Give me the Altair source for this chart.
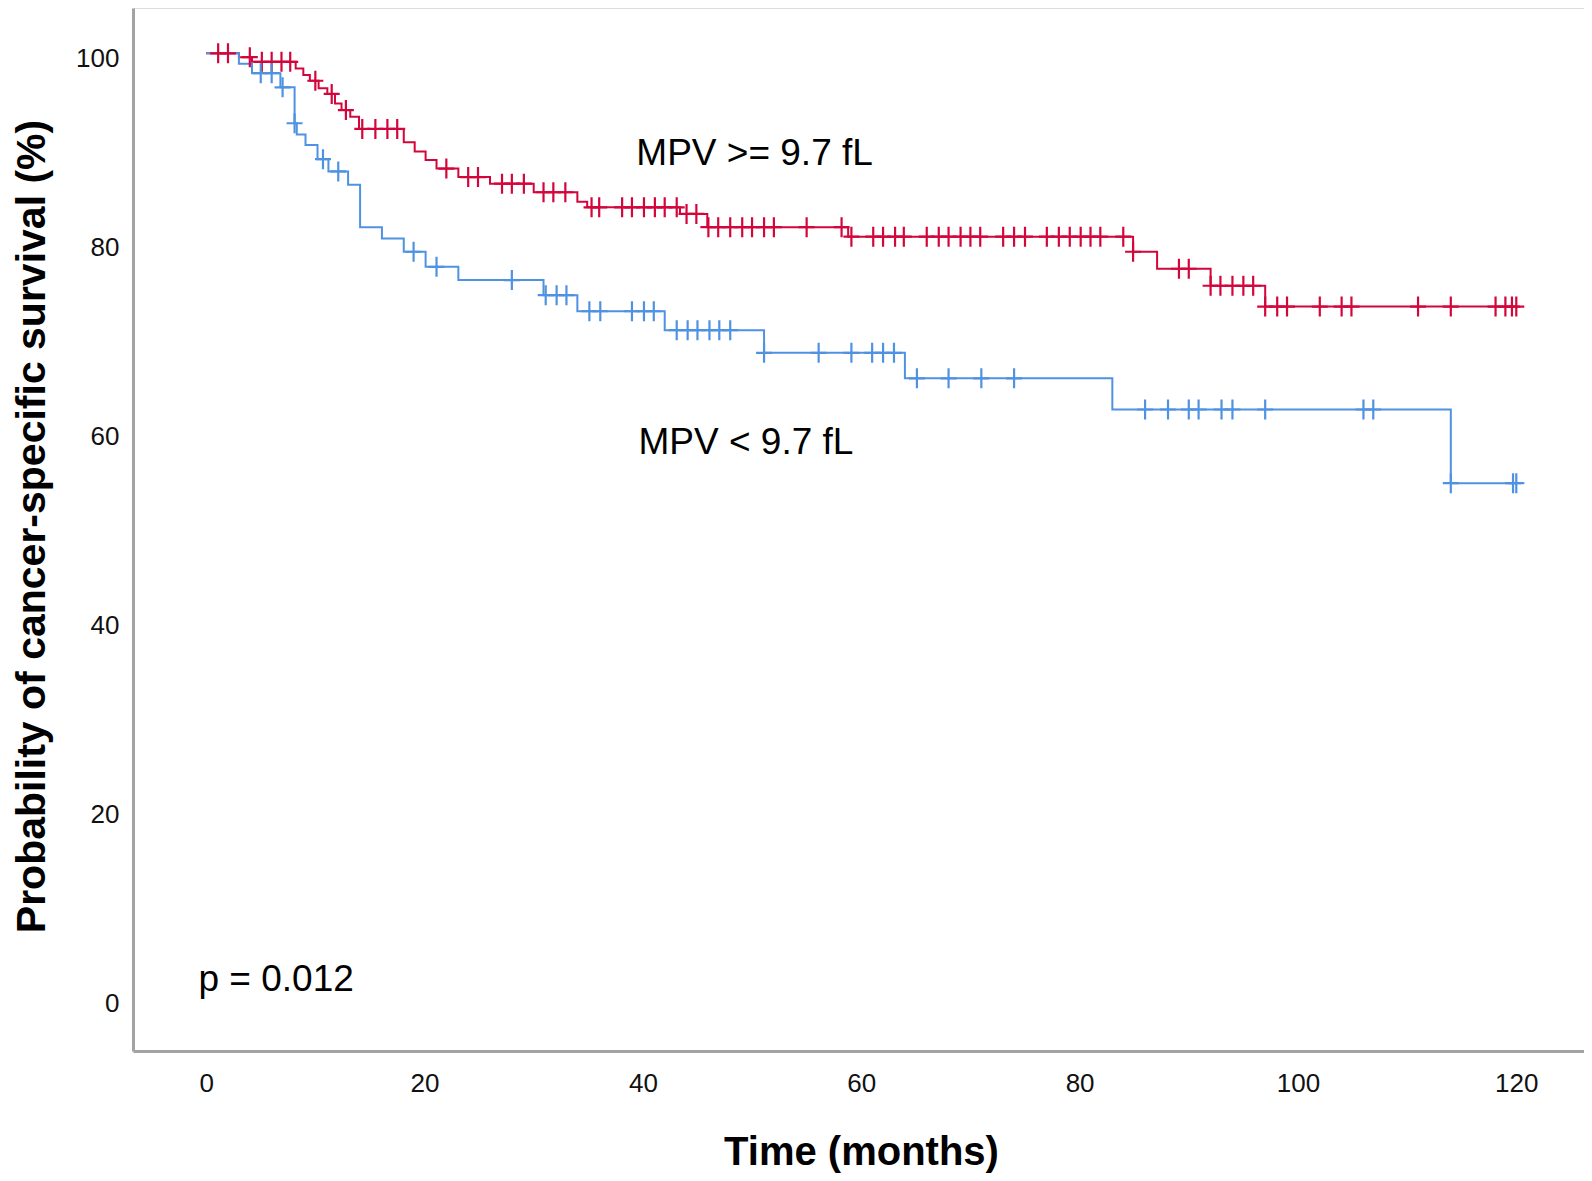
import altair as alt
import pandas as pd
import numpy as np

# ---------------- data ----------------
group_names = ["MPV >= 9.7 fL", "MPV < 9.7 fL"]
group_colors = ["#d3063c", "#4f92e2"]

# MPV >= 9.7 fL (red): event times (months) and survival (%) after each step
high_event_times = [3.0, 4.2, 8.2, 8.9, 9.5, 10.3, 11.1, 11.8, 12.4, 13.2, 14.0,
                    18.1, 19.1, 20.1, 21.1, 23.1, 26.0, 30.0, 34.0, 34.9,
                    43.4, 45.9, 58.8, 84.9, 87.1, 92.0, 97.0]
high_event_surv = [99.6, 99.1, 98.4, 97.7, 97.1, 96.3, 95.7, 94.7, 94.0, 93.3, 92.0,
                   90.6, 89.6, 88.7, 87.8, 86.9, 86.2, 85.3, 84.3, 83.7,
                   83.0, 81.6, 80.6, 79.0, 77.2, 75.4, 73.2]
high_censor_times = [1.1, 2.0, 4.0, 5.1, 6.0, 6.9, 7.7, 10.0, 11.5, 12.8, 14.3, 15.5,
                     16.6, 17.5, 22.0, 24.0, 24.9, 27.1, 28.0, 29.1, 30.9, 31.8, 32.9,
                     35.3, 36.0, 38.1, 39.0, 40.1, 41.1, 42.0, 43.1, 44.0, 44.9, 46.0,
                     46.9, 48.0, 49.1, 50.0, 51.1, 52.0, 55.0, 58.2, 59.1, 61.1, 62.0,
                     63.1, 63.9, 66.0, 67.1, 68.0, 69.1, 70.0, 70.9, 73.0, 74.0, 75.0,
                     77.0, 78.1, 79.1, 80.1, 81.0, 81.9, 84.0, 84.9, 89.1, 90.0, 92.0,
                     92.9, 94.0, 95.0, 95.9, 97.0, 98.1, 99.0, 102.0, 104.0, 104.9,
                     111.0, 114.0, 118.1, 119.0, 119.6, 120.0]

# MPV < 9.7 fL (blue)
low_event_times = [3.0, 4.2, 6.8, 8.1, 8.3, 9.1, 10.2, 11.2, 13.0, 14.1, 16.1, 18.1,
                   20.1, 23.1, 30.9, 34.0, 42.0, 51.1, 64.0, 83.0, 114.0]
low_event_surv = [98.9, 97.9, 96.4, 92.6, 91.4, 90.3, 88.8, 87.5, 86.1, 81.6, 80.4, 79.0,
                  77.4, 76.0, 74.4, 72.7, 70.7, 68.3, 65.6, 62.3, 54.5]
low_censor_times = [5.0, 6.0, 7.0, 8.1, 10.7, 12.1, 19.0, 21.1, 28.0, 31.1, 32.1, 33.0,
                    35.1, 36.1, 39.0, 40.1, 41.0, 43.1, 44.1, 45.0, 46.1, 47.0, 48.0,
                    51.1, 56.1, 59.1, 61.0, 62.0, 63.0, 65.1, 68.0, 71.0, 74.0, 86.0,
                    88.1, 90.0, 90.9, 93.0, 94.0, 97.0, 106.0, 106.9, 114.0, 119.7, 120.0]

follow_up_end = 120.0
x_tick_values = [0, 20, 40, 60, 80, 100, 120]
y_tick_values = [0, 20, 40, 60, 80, 100]

annotation_text = ["MPV >= 9.7 fL", "MPV < 9.7 fL", "p = 0.012"]
annotation_x = [39.4, 39.6, -0.7]
annotation_y = [89.3, 58.8, 1.9]

# ---------------- build tables ----------------
def step_table(name, times, surv):
    t = [0.0] + list(times) + [follow_up_end]
    s = [100.0] + list(surv) + [surv[-1]]
    return pd.DataFrame({"time": t, "surv": s, "group": name})


def censor_table(name, ctimes, times, surv):
    levels = np.concatenate([[100.0], np.asarray(surv, dtype=float)])
    idx = np.searchsorted(np.asarray(times, dtype=float), np.asarray(ctimes, dtype=float), side="right")
    return pd.DataFrame({"time": ctimes, "surv": levels[idx], "group": name})


lines = pd.concat([
    step_table(group_names[0], high_event_times, high_event_surv),
    step_table(group_names[1], low_event_times, low_event_surv),
])
censors = pd.concat([
    censor_table(group_names[0], high_censor_times, high_event_times, high_event_surv),
    censor_table(group_names[1], low_censor_times, low_event_times, low_event_surv),
])
notes = pd.DataFrame({"label": annotation_text, "x": annotation_x, "y": annotation_y})

FONT = "Liberation Sans"

x_scale = alt.Scale(domain=[-6.7, 126.2], nice=False, zero=False)
y_scale = alt.Scale(domain=[-5.6, 104.8], nice=False, zero=False)
color_scale = alt.Scale(domain=group_names, range=group_colors)

x_axis = alt.Axis(values=x_tick_values, ticks=False, grid=False, labelFontSize=26,
                  labelFont=FONT, labelColor="#111111", labelPadding=19,
                  domainColor="#a3a3a3", domainWidth=3, title="Time (months)",
                  titleFont=FONT, titleFontSize=40, titleFontWeight="bold",
                  titleColor="black", titleX=728, titleY=101, titleAlign="center",
                  titleBaseline="middle")
y_axis = alt.Axis(values=y_tick_values, ticks=False, grid=False, labelFontSize=26,
                  labelFont=FONT, labelColor="#111111", labelPadding=14, labelOffset=5,
                  domainColor="#a3a3a3", domainWidth=3,
                  title="Probability of cancer-specific survival (%)",
                  titleFont=FONT, titleFontSize=41, titleFontWeight="bold",
                  titleColor="black", titleAngle=270, titleX=-101, titleY=518,
                  titleAlign="center", titleBaseline="middle")

line_layer = alt.Chart(lines).mark_line(interpolate="step-after", strokeWidth=2).encode(
    x=alt.X("time:Q", scale=x_scale, axis=x_axis),
    y=alt.Y("surv:Q", scale=y_scale, axis=y_axis),
    color=alt.Color("group:N", scale=color_scale, legend=None),
)

censor_layer = alt.Chart(censors).mark_point(
    shape="M-0.8,0H0.8M0,-1V1", size=400, filled=False, strokeWidth=2.2, opacity=1
).encode(
    x=alt.X("time:Q", scale=x_scale),
    y=alt.Y("surv:Q", scale=y_scale),
    color=alt.Color("group:N", scale=color_scale, legend=None),
)

text_layer = alt.Chart(notes).mark_text(
    align="left", baseline="middle", fontSize=37, font=FONT, color="black"
).encode(
    x=alt.X("x:Q", scale=x_scale),
    y=alt.Y("y:Q", scale=y_scale),
    text="label:N",
)

chart = alt.layer(line_layer, censor_layer, text_layer).properties(
    width=1451, height=1043,
    autosize=alt.AutoSizeParams(type="none"),
    padding={"left": 125, "top": 0, "right": 0, "bottom": 122},
).configure_view(stroke=None).configure(background="white")

chart.save("out.html", embed_options={"renderer": "svg", "actions": False})
